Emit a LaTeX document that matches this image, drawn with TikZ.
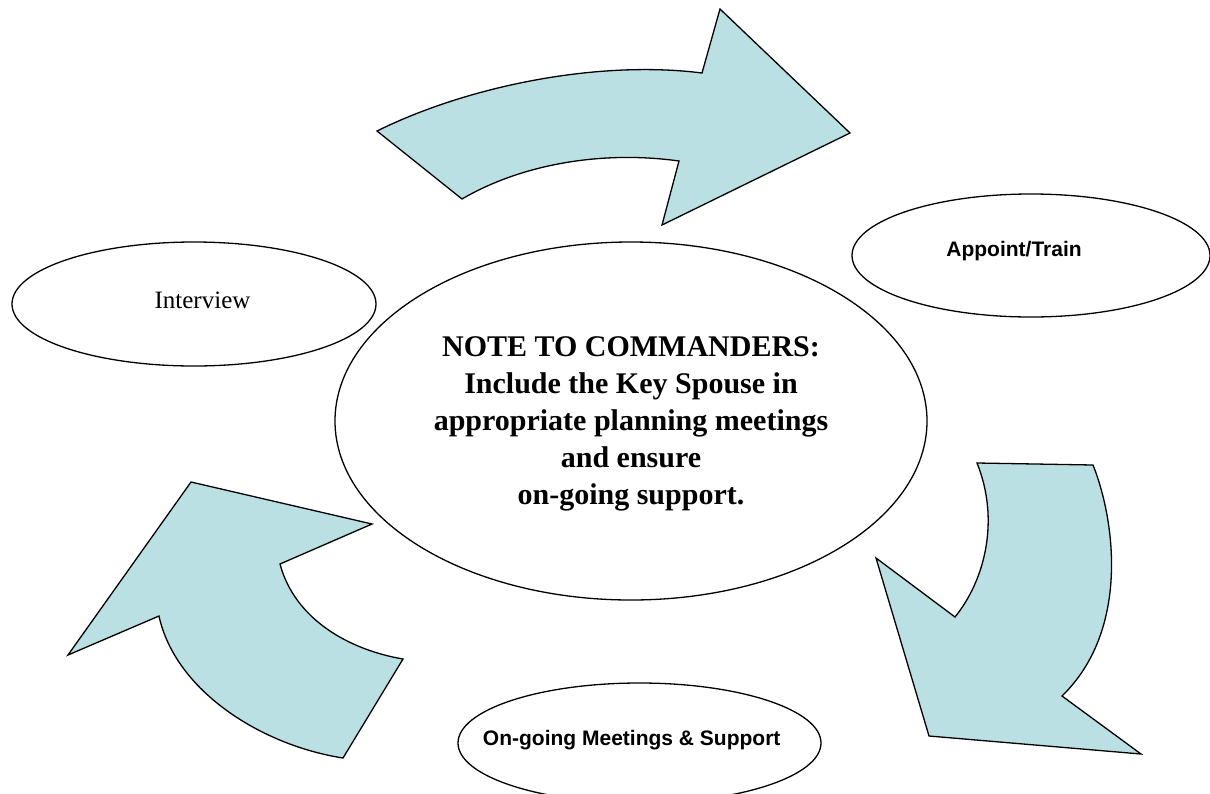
\documentclass[tikz,border=0pt]{standalone}
\usepackage{fontspec}
\setmainfont{Liberation Serif}
\newfontfamily\arialfont{Liberation Sans}
\usetikzlibrary{shapes.geometric}
\definecolor{arrowfill}{HTML}{BBE0E3}
\begin{document}
\begin{tikzpicture}[x=1pt,y=-1pt,
  bigarrow/.style={fill=arrowfill,draw=black,line width=1.3pt,line join=miter},
  oval/.style={ellipse,draw=black,fill=white,line width=1.3pt,inner sep=0pt},
  seriflabel/.style={anchor=base,inner sep=0pt,font=\fontsize{25}{30}\selectfont},
  sanslabel/.style={anchor=base,inner sep=0pt,font=\arialfont\bfseries\fontsize{21}{25}\selectfont},
  notelabel/.style={anchor=center,inner sep=0pt,align=center,font=\bfseries\fontsize{30}{37}\selectfont}
]
\useasboundingbox (0,0) rectangle (1210,793);
\clip (0,0) rectangle (1210,793);
\fill[white] (0,0) rectangle (1210,793);

% arrows
\draw[bigarrow] (377,131) .. controls (470,85) and (600,60) .. (702,73) -- (720,9) -- (850,133) -- (662,225) -- (679,161) .. controls (600,150) and (520,165) .. (462,199) -- cycle;
\draw[bigarrow] (977,463) -- (1093,465) .. controls (1115,520) and (1130,630) .. (1062,696) -- (1141,754) -- (929,736) -- (876,558) -- (955,617) .. controls (985,580) and (1000,520) .. (977,463) -- cycle;
\draw[bigarrow] (191,482) -- (372,524) -- (280,564) .. controls (295,620) and (350,650) .. (403,659) -- (343,758) .. controls (260,745) and (175,690) .. (159,616) -- (68,655) -- cycle;

% ellipses
\node[oval,minimum width=364pt,minimum height=124pt] (interview) at (194,304) {};
\node[oval,minimum width=358pt,minimum height=123pt] (appoint) at (1031,255.5) {};
\node[oval,minimum width=363pt,minimum height=120pt] (ongoing) at (639.5,743) {};
\node[oval,minimum width=592pt,minimum height=358pt] (note) at (631,421) {};

% texts
\node[seriflabel] (interviewtext) at (202.5,308.3) {Interview};
\node[sanslabel] (appointtext) at (1014,256) {Appoint/Train};
\node[sanslabel] (ongoingtext) at (631.7,745) {On-going Meetings \& Support};
\node[notelabel] (notetext) at (631,424) {NOTE TO COMMANDERS:\\Include the Key Spouse in\\appropriate planning meetings\\and ensure\\on-going support.};
\end{tikzpicture}
\end{document}
